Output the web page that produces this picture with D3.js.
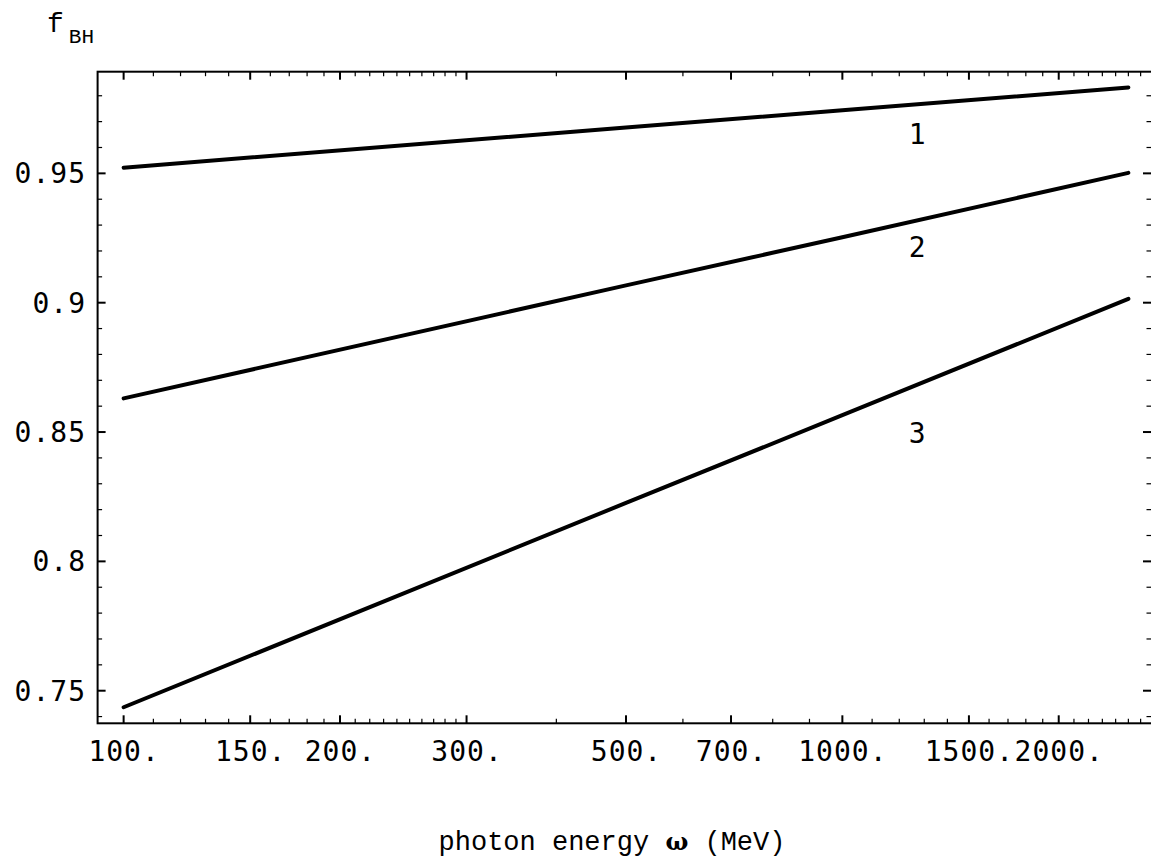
<!DOCTYPE html>
<html>
<head>
<meta charset="utf-8">
<script src="https://cdn.jsdelivr.net/npm/d3@7"></script>
<style>
  body { margin: 0; background: #fff; }
  .tick-label { font-family: "DejaVu Sans Mono", monospace; font-size: 28px; letter-spacing: 1px; fill: #000; }
  .courier { font-family: "Liberation Mono", "Courier New", monospace; fill: #000; }
</style>
</head>
<body>
<div id="chart"></div>
<script>

// photon energies (MeV) where the curves were read
var energies = [100, 500, 1000, 2500];

// f_BH curves
var curve1 = [0.9522, 0.9677, 0.9744, 0.9832];
var curve2 = [0.8630, 0.9067, 0.9253, 0.9502];
var curve3 = [0.7436, 0.8226, 0.8565, 0.9015];

var curveNames = ["1", "2", "3"];
// label anchor points, in data units
var labelEnergy = [1273, 1273, 1273];
var labelValue = [0.9613, 0.9176, 0.8456];

// x axis ticks
var xMajor = [100, 150, 200, 300, 500, 700, 1000, 1500, 2000];
var xMajorLabels = ["100.", "150.", "200.", "300.", "500.", "700.", "1000.", "1500.", "2000."];
var xMinor = [110, 120, 130, 140, 160, 170, 180, 190,
              210, 220, 230, 240, 250, 260, 270, 280, 290,
              400, 600, 800, 900,
              1100, 1200, 1300, 1400, 1600, 1700, 1800, 1900,
              2100, 2200, 2300, 2400, 2500, 2600];

// y axis ticks
var yMajor = [0.75, 0.8, 0.85, 0.9, 0.95];
var yMajorLabels = ["0.75", "0.8", "0.85", "0.9", "0.95"];
var yMinor = [0.74, 0.76, 0.77, 0.78, 0.79, 0.81, 0.82, 0.83, 0.84,
              0.86, 0.87, 0.88, 0.89, 0.91, 0.92, 0.93, 0.94,
              0.96, 0.97, 0.98];

var W = 1151, H = 867;
var pLeft = 97.6, pRight = 1152.4, pTop = 71.7, pBottom = 723.3;
var xMin = 92, xMax = 2700, yMin = 0.7374, yMax = 0.9893;

var svg = d3.select("#chart").append("svg")
    .attr("width", W)
    .attr("height", H);

// scales
var x = d3.scaleLog().domain([xMin, xMax]).range([pLeft, pRight]);
var y = d3.scaleLinear().domain([yMin, yMax]).range([pBottom, pTop]);

// frame
svg.append("rect")
    .attr("x", x(xMin)).attr("y", y(yMax))
    .attr("width", x(xMax) - x(xMin)).attr("height", y(yMin) - y(yMax))
    .attr("fill", "none").attr("stroke", "#000").attr("stroke-width", 2);

var majorLen = 8, minorLen = 4.5;

// bottom + top ticks
function xTicks(vals, len, w) {
  svg.append("g").selectAll("line").data(vals).enter().append("line")
      .attr("x1", d => x(d)).attr("x2", d => x(d))
      .attr("y1", pBottom).attr("y2", pBottom - len)
      .attr("stroke", "#000").attr("stroke-width", w);
  svg.append("g").selectAll("line").data(vals).enter().append("line")
      .attr("x1", d => x(d)).attr("x2", d => x(d))
      .attr("y1", pTop).attr("y2", pTop + len)
      .attr("stroke", "#000").attr("stroke-width", w);
}
xTicks(xMajor, majorLen, 2);
xTicks(xMinor, minorLen, 1.2);

// left + right ticks
function yTicks(vals, len, w) {
  svg.append("g").selectAll("line").data(vals).enter().append("line")
      .attr("x1", pLeft).attr("x2", pLeft + len)
      .attr("y1", d => y(d)).attr("y2", d => y(d))
      .attr("stroke", "#000").attr("stroke-width", w);
  svg.append("g").selectAll("line").data(vals).enter().append("line")
      .attr("x1", W).attr("x2", W - len)
      .attr("y1", d => y(d)).attr("y2", d => y(d))
      .attr("stroke", "#000").attr("stroke-width", w);
}
yTicks(yMajor, majorLen, 2);
yTicks(yMinor, minorLen, 1.2);

// tick labels
svg.append("g").selectAll("text").data(xMajor).enter().append("text")
    .attr("class", "tick-label")
    .attr("x", d => x(d) + 0.5)
    .attr("y", 761)
    .attr("text-anchor", "middle")
    .text((d, i) => xMajorLabels[i]);

svg.append("g").selectAll("text").data(yMajor).enter().append("text")
    .attr("class", "tick-label")
    .attr("x", 86)
    .attr("y", d => y(d) + 10)
    .attr("text-anchor", "end")
    .text((d, i) => yMajorLabels[i]);

// curves
var line = d3.line()
    .x(function(d) { return x(d[0]); })
    .y(function(d) { return y(d[1]); });

[curve1, curve2, curve3].forEach(function(c) {
  svg.append("path")
      .datum(energies.map((e, i) => [e, c[i]]))
      .attr("d", line)
      .attr("fill", "none")
      .attr("stroke", "#000")
      .attr("stroke-width", 4)
      .attr("stroke-linecap", "round");
});

// curve labels
svg.append("g").selectAll("text").data(curveNames).enter().append("text")
    .attr("class", "tick-label")
    .attr("x", (d, i) => x(labelEnergy[i]))
    .attr("y", (d, i) => y(labelValue[i]))
    .attr("text-anchor", "middle")
    .text(d => d);

// y axis title f_BH
var yt = svg.append("text").attr("class", "courier").attr("x", 47).attr("y", 32);
yt.append("tspan").attr("font-size", 28).text("f");
yt.append("tspan").attr("font-size", 21).attr("dx", 5).attr("dy", 11).text("BH");

// x axis title
var xt = svg.append("text").attr("class", "courier")
    .attr("x", 612).attr("y", 850)
    .attr("text-anchor", "middle")
    .attr("font-size", 27);
xt.append("tspan").text("photon energy ");
xt.append("tspan").attr("font-family", "DejaVu Serif").attr("font-weight", "bold")
    .attr("font-size", 24).text("ω");
xt.append("tspan").text(" (MeV)");

</script>
</body>
</html>
